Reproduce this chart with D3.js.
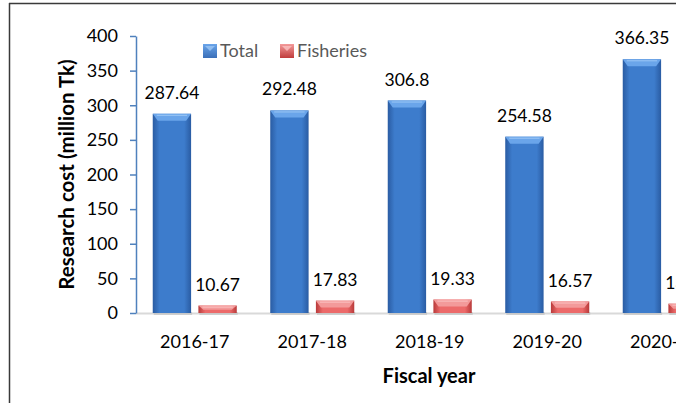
<!DOCTYPE html>
<html>
<head>
<meta charset="utf-8">
<script src="https://cdn.jsdelivr.net/npm/d3@7"></script>
<style>
  html, body { margin: 0; padding: 0; background: #fff; }
  svg { display: block; overflow: hidden; }
  text { font-family: Lato, "Open Sans", sans-serif; }
</style>
</head>
<body>
<div id="chart"></div>
<script>
// Fiscal years on the x axis
const years = ["2016-17", "2017-18", "2018-19", "2019-20", "2020-21"];
// Research cost (million Tk)
const totalCost = [287.64, 292.48, 306.8, 254.58, 366.35];
const fisheriesCost = [10.67, 17.83, 19.33, 16.57, 13.45];
const seriesNames = ["Total", "Fisheries"];
const yTicks = [0, 50, 100, 150, 200, 250, 300, 350, 400];

const W = 676, H = 403;
const plot = { left: 136, top: 36, bottom: 313, step: 117.5 };

const svg = d3.select("#chart").append("svg")
  .attr("width", W).attr("height", H);

// colour schemes for the two series
const palette = {
  Total:     { edge: "#2a5ca3", mid: "#3d7ccc", top: "#6aa5ea", hi: "#9cc7f5", legend: "#3a6fb8" },
  Fisheries: { edge: "#b83a3a", mid: "#ec6a6a", top: "#f39a9a", hi: "#fbc2c2", legend: "#c03c3c" }
};

const defs = svg.append("defs");
seriesNames.forEach(s => {
  const g = defs.append("linearGradient").attr("id", "grad-" + s)
    .attr("x1", "0").attr("x2", "1").attr("y1", "0").attr("y2", "0");
  g.append("stop").attr("offset", "0%").attr("stop-color", palette[s].edge);
  g.append("stop").attr("offset", "18%").attr("stop-color", palette[s].mid);
  g.append("stop").attr("offset", "82%").attr("stop-color", palette[s].mid);
  g.append("stop").attr("offset", "100%").attr("stop-color", palette[s].edge);
  const lg = defs.append("linearGradient").attr("id", "leg-" + s)
    .attr("x1", "0").attr("x2", "0").attr("y1", "0").attr("y2", "1");
  lg.append("stop").attr("offset", "0%").attr("stop-color", palette[s].top);
  lg.append("stop").attr("offset", "100%").attr("stop-color", palette[s].legend);
});

// outer frame
svg.append("line").attr("x1", 9.5).attr("x2", 9.5).attr("y1", 3).attr("y2", H)
  .attr("stroke", "#3a3a3a").attr("stroke-width", 1.5);
svg.append("line").attr("x1", 9).attr("x2", W).attr("y1", 3.5).attr("y2", 3.5)
  .attr("stroke", "#3a3a3a").attr("stroke-width", 1.5);

const x = d3.scaleBand().domain(years)
  .range([plot.left, plot.left + plot.step * years.length])
  .paddingInner(0.285).paddingOuter(0.1425);
const xs = d3.scaleBand().domain(seriesNames)
  .range([0, x.bandwidth()]).paddingInner(0.16).paddingOuter(0);
const y = d3.scaleLinear().domain([0, 400]).range([plot.bottom, plot.top]);

// baseline
svg.append("line")
  .attr("x1", plot.left).attr("x2", W)
  .attr("y1", y(0) + 0.5).attr("y2", y(0) + 0.5)
  .attr("stroke", "#d9d9d9").attr("stroke-width", 2);

const rows = years.map((yr, i) => ({
  year: yr,
  values: [
    { key: "Total", value: totalCost[i] },
    { key: "Fisheries", value: fisheriesCost[i] }
  ]
}));

const groups = svg.append("g").selectAll("g").data(rows).join("g")
  .attr("transform", d => `translate(${x(d.year)},0)`);

const bars = groups.selectAll("g.bar").data(d => d.values).join("g").attr("class", "bar");

// soft shadow under each bar
bars.append("rect")
  .attr("x", d => xs(d.key) + 1).attr("width", xs.bandwidth())
  .attr("y", y(0) - 1).attr("height", 3)
  .attr("fill", "#bdbdbd").attr("opacity", 0.6);

bars.append("rect")
  .attr("x", d => xs(d.key)).attr("width", xs.bandwidth())
  .attr("y", d => y(d.value)).attr("height", d => y(0) - y(d.value))
  .attr("fill", d => `url(#grad-${d.key})`);

// bevelled top face
bars.append("path")
  .attr("d", d => {
    const x0 = xs(d.key), x1 = x0 + xs.bandwidth(), t = y(d.value);
    const h = Math.min(7, (y(0) - t) * 0.55);
    return `M${x0},${t}L${x1},${t}L${x1 - 5},${t + h}L${x0 + 5},${t + h}Z`;
  })
  .attr("fill", d => palette[d.key].top);
bars.append("line")
  .attr("x1", d => xs(d.key) + 4).attr("x2", d => xs(d.key) + xs.bandwidth() - 4)
  .attr("y1", d => y(d.value) + 1.5).attr("y2", d => y(d.value) + 1.5)
  .attr("stroke", d => palette[d.key].hi).attr("stroke-width", 1);

// value labels
bars.append("text")
  .attr("x", d => xs(d.key) + xs.bandwidth() / 2)
  .attr("y", d => y(d.value) - 15)
  .attr("text-anchor", "middle")
  .attr("font-size", 17.5).attr("fill", "#000")
  .text(d => d.value);

// y axis
const yAxis = svg.append("g")
  .attr("transform", `translate(${plot.left},0)`)
  .call(d3.axisLeft(y).tickValues(yTicks).tickSize(6).tickPadding(12).tickSizeOuter(0));
yAxis.select(".domain").attr("stroke", "#4f81bd").attr("stroke-width", 1.5);
yAxis.selectAll(".tick line").attr("stroke", "#4f81bd").attr("stroke-width", 1.5);
yAxis.selectAll(".tick text").attr("font-size", 18).attr("fill", "#000")
  .attr("font-family", "Lato, sans-serif");

// x axis labels
const xAxis = svg.append("g")
  .attr("transform", `translate(0,${plot.bottom})`)
  .call(d3.axisBottom(x).tickSize(0).tickPadding(22));
xAxis.select(".domain").remove();
xAxis.selectAll(".tick text").attr("font-size", 18).attr("fill", "#000")
  .attr("font-family", "Lato, sans-serif");

// axis titles
svg.append("text")
  .attr("transform", `translate(74,${(plot.top + plot.bottom) / 2}) rotate(-90)`)
  .attr("text-anchor", "middle").attr("font-size", 20.5).attr("font-weight", "bold")
  .text("Research cost (million Tk)");
svg.append("text")
  .attr("x", 429).attr("y", 383)
  .attr("text-anchor", "middle").attr("font-size", 20).attr("font-weight", "bold")
  .text("Fiscal year");

// legend
const legend = svg.append("g").attr("transform", "translate(203,44)");
const items = legend.selectAll("g").data(seriesNames).join("g")
  .attr("transform", (d, i) => `translate(${i * 77},0)`);
items.append("rect").attr("width", 14).attr("height", 14)
  .attr("fill", d => `url(#leg-${d})`);
items.append("path")
  .attr("d", "M2,2L12,2L7,7Z").attr("fill", d => palette[d].hi).attr("opacity", 0.8);
items.append("text").attr("x", 17).attr("y", 13)
  .attr("font-size", 18).attr("fill", "#595959")
  .text(d => d);
</script>
</body>
</html>
